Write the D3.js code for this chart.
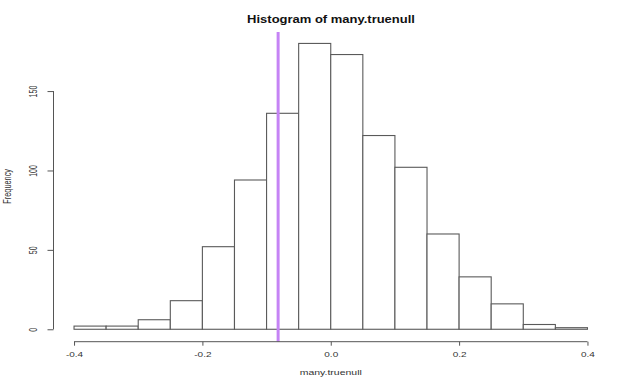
<!DOCTYPE html>
<html>
<head>
<meta charset="utf-8">
<script src="https://cdn.jsdelivr.net/npm/d3@7"></script>
<style>
  html, body { margin: 0; padding: 0; background: #fff; }
  svg { display: block; font-family: "Liberation Sans", Arial, sans-serif; }
</style>
</head>
<body>
<div id="chart"></div>
<script>
// Histogram of many.truenull — base R look, picture squashed vertically

var binEdges = [-0.4, -0.35, -0.3, -0.25, -0.2, -0.15, -0.1, -0.05, 0,
                0.05, 0.1, 0.15, 0.2, 0.25, 0.3, 0.35, 0.4];
var counts = [2, 2, 6, 18, 52, 94, 136, 180, 173, 122, 102, 60, 33, 16, 3, 1];

var xTicks = [-0.4, -0.2, 0, 0.2, 0.4];
var xTickLabels = ['-0.4', '-0.2', '0.0', '0.2', '0.4'];
var yTicks = [0, 50, 100, 150];

var markValue = -0.082;   // the vertical abline

var titleText = 'Histogram of many.truenull';
var xLabel = 'many.truenull';
var yLabel = 'Frequency';

var W = 636, H = 383;
var SQ = 0.7;             // vertical squash of the original picture

// plot region (R pads each range by 4%)
var plot = { left: 53.5, right: 608, top: 32, bottom: 340.7 };

var xMin = binEdges[0], xMax = binEdges[binEdges.length - 1];
var xPad = (xMax - xMin) * 0.04;
var yMax = d3.max(counts);
var yPad = yMax * 0.04;

var x = d3.scaleLinear().domain([xMin - xPad, xMax + xPad]).range([plot.left, plot.right]);
var y = d3.scaleLinear().domain([-yPad, yMax + yPad]).range([plot.bottom, plot.top]);

var svg = d3.select('#chart').append('svg')
  .attr('width', W)
  .attr('height', H);

var bins = counts.map(function(c, i) {
  return { x0: binEdges[i], x1: binEdges[i + 1], n: c };
});

// bars
svg.append('g').selectAll('rect')
  .data(bins)
  .enter()
  .append('rect')
  .attr('x', function(d) { return x(d.x0); })
  .attr('y', function(d) { return y(d.n); })
  .attr('width', function(d) { return x(d.x1) - x(d.x0); })
  .attr('height', function(d) { return y(0) - y(d.n); })
  .attr('fill', '#fff')
  .attr('stroke', '#5a5a5a')
  .attr('stroke-width', 1.1);

// vertical line across the plot region
svg.append('line')
  .attr('x1', x(markValue)).attr('x2', x(markValue))
  .attr('y1', plot.top).attr('y2', plot.bottom + 1)
  .attr('stroke', '#c583f5')
  .attr('stroke-width', 3);

// ── x axis ──────────────────────────────────────────────
var xAxis = d3.axisBottom(x)
  .tickValues(xTicks)
  .tickFormat(function(d, i) { return xTickLabels[i]; })
  .tickSize(4)
  .tickSizeOuter(0);

var gx = svg.append('g')
  .attr('transform', 'translate(0,' + (plot.bottom + 1) + ')')
  .call(xAxis);
gx.select('.domain').remove();
gx.append('line')
  .attr('x1', x(xTicks[0])).attr('x2', x(xTicks[xTicks.length - 1]))
  .attr('stroke', '#555');
gx.selectAll('.tick line').attr('stroke', '#555');
gx.selectAll('.tick text')
  .attr('y', 0).attr('dy', 0)
  .attr('transform', 'translate(0,15.5) scale(1,' + SQ + ')')
  .attr('fill', '#333')
  .style('font-size', '10px');

// ── y axis ──────────────────────────────────────────────
var yAxis = d3.axisLeft(y)
  .tickValues(yTicks)
  .tickSize(6)
  .tickSizeOuter(0);

var gy = svg.append('g')
  .attr('transform', 'translate(' + plot.left + ',0)')
  .call(yAxis);
gy.select('.domain').remove();
gy.append('line')
  .attr('y1', y(yTicks[0])).attr('y2', y(yTicks[yTicks.length - 1]))
  .attr('stroke', '#555');
gy.selectAll('.tick line').attr('stroke', '#555');
gy.selectAll('.tick text')
  .attr('x', 0).attr('dy', 0)
  .attr('text-anchor', 'middle')
  .attr('transform', 'translate(-16.5,0) scale(1,' + SQ + ') rotate(-90)')
  .attr('fill', '#333')
  .style('font-size', '10px');

// ── labels ──────────────────────────────────────────────
svg.append('text')
  .attr('transform', 'translate(331,22.5) scale(1,0.78)')
  .attr('text-anchor', 'middle')
  .attr('font-weight', 'bold')
  .attr('fill', '#111')
  .style('font-size', '13px')
  .text(titleText);

svg.append('text')
  .attr('transform', 'translate(' + ((plot.left + plot.right) / 2) + ',375) scale(1,' + SQ + ')')
  .attr('text-anchor', 'middle')
  .attr('fill', '#333')
  .style('font-size', '10.5px')
  .text(xLabel);

svg.append('text')
  .attr('transform', 'translate(11,' + ((plot.top + plot.bottom) / 2) + ') scale(1,' + SQ + ') rotate(-90)')
  .attr('text-anchor', 'middle')
  .attr('fill', '#333')
  .style('font-size', '10.5px')
  .text(yLabel);
</script>
</body>
</html>
